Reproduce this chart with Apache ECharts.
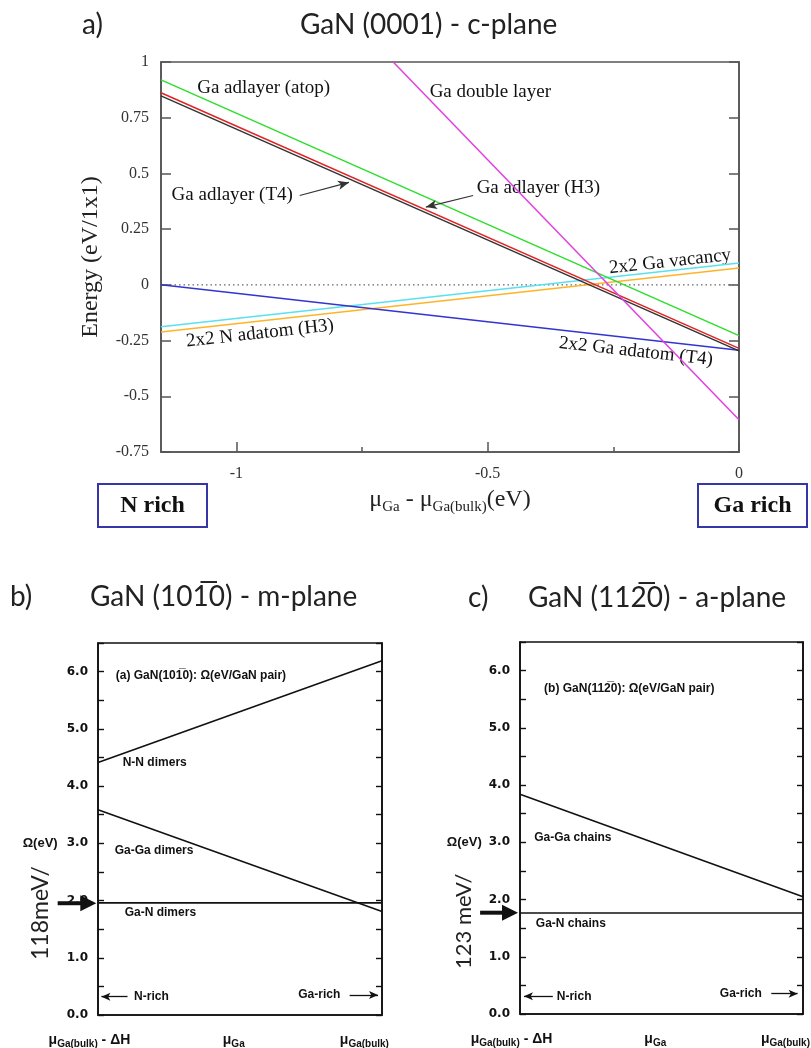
<!DOCTYPE html>
<html lang="en">
<head>
    <meta charset="UTF-8">
    <title>GaN surface energies</title>
    <script src="https://cdn.jsdelivr.net/npm/echarts@6/dist/echarts.min.js"></script>
    <style>
        html, body { margin: 0; padding: 0; background: #fff; }
        #chart { width: 811px; height: 1048px; }
    </style>
</head>
<body>
<div id="chart"></div>
<script>
    // ---- panel a: GaN (0001), energies at the ends of the mu range ----
    const muRange = [-1.15, 0];
    const adlayerAtop = [0.92, -0.228];
    const adlayerH3 = [0.862, -0.285];
    const adlayerT4 = [0.848, -0.296];
    const doubleLayer = [[-0.688, 1], [0, -0.605]];
    const gaVacancy = [-0.188, 0.098];
    const nAdatomH3 = [-0.212, 0.076];
    const gaAdatomT4 = [0.0, -0.293];
    const xMajorA = [-1, -0.5, 0];
    const xMinorA = [-0.75, -0.25];

    // ---- panel b: GaN (10-10), x runs from N rich (0) to Ga rich (1) ----
    const nnDimers = [4.41, 6.19];
    const gagaDimers = [3.585, 1.81];
    const ganDimers = [1.96, 1.96];

    // ---- panel c: GaN (11-20) ----
    const gagaChains = [3.84, 2.05];
    const ganChains = [1.765, 1.765];

    const bottomLabels = ['{m|μ}{s|Ga(bulk)}{m| - ΔH}', '{m|μ}{s|Ga}', '{m|μ}{s|Ga(bulk)}'];
    const bottomAt = [-0.03, 0.478, 0.938];

    // text notes, placed in data coordinates of their panel
    const notesA = [
        { text: 'Ga adlayer (atop)', at: [-1.078, 0.882] },
        { text: 'Ga double layer', at: [-0.6155, 0.867] },
        { text: 'Ga adlayer (T4)', at: [-1.129, 0.404] },
        { text: 'Ga adlayer (H3)', at: [-0.522, 0.434] },
        { text: '2x2 Ga vacancy', at: [-0.137, 0.104], rot: 6.3 },
        { text: '2x2 N adatom (H3)', at: [-0.953, -0.218], rot: 6.3 },
        { text: '2x2 Ga adatom (T4)', at: [-0.205, -0.299], rot: -6.3 }
    ];
    const arrowsA = [
        { from: [-0.874, 0.401], to: [-0.776, 0.4595] },
        { from: [-0.529, 0.401], to: [-0.623, 0.349] }
    ];
    const notesB = [
        { text: '(a) GaN(101\u03050): Ω(eV/GaN pair)', at: [0.0625, 5.93] },
        { text: 'N-N dimers', at: [0.087, 4.41] },
        { text: 'Ga-Ga dimers', at: [0.059, 2.87] },
        { text: 'Ga-N dimers', at: [0.094, 1.78] },
        { text: 'N-rich', at: [0.127, 0.32] },
        { text: 'Ga-rich', at: [0.705, 0.35] }
    ];
    const arrowsB = [
        { from: [0.104, 0.32], to: [0.012, 0.32] },
        { from: [0.886, 0.35], to: [0.986, 0.35] }
    ];
    const bigArrowB = { from: [-0.142, 1.953], to: [-0.006, 1.953] };
    const notesC = [
        { text: '(b) GaN(112\u03050): Ω(eV/GaN pair)', at: [0.085, 5.68] },
        { text: 'Ga-Ga chains', at: [0.05, 3.08] },
        { text: 'Ga-N chains', at: [0.056, 1.58] },
        { text: 'N-rich', at: [0.13, 0.31] },
        { text: 'Ga-rich', at: [0.706, 0.355] }
    ];
    const arrowsC = [
        { from: [0.116, 0.31], to: [0.014, 0.31] },
        { from: [0.888, 0.355], to: [0.981, 0.355] }
    ];
    const bigArrowC = { from: [-0.141, 1.77], to: [-0.007, 1.77] };

    const serif = '"Liberation Serif", "DejaVu Serif", serif';
    const sans = '"Liberation Sans", Arial, sans-serif';
    const titleFont = 'Lato, "Noto Sans", sans-serif';

    const chart = echarts.init(document.getElementById('chart'));

    function seg(ys) {
        return [[0, ys[0]], [1, ys[1]]];
    }
    function segA(ys) {
        return [[muRange[0], ys[0]], [muRange[1], ys[1]]];
    }
    function lineSeries(name, data, color, idx, width) {
        return {
            type: 'line', name: name, xAxisIndex: idx, yAxisIndex: idx * 2,
            data: data, symbol: 'none', silent: true,
            lineStyle: { color: color, width: width || 1.5 }
        };
    }
    function arrowSeries(idx, list, width, symbol, size, color) {
        return {
            type: 'line', xAxisIndex: idx, yAxisIndex: idx * 2, data: [], clip: false,
            markLine: {
                silent: true, symbol: ['none', symbol], symbolSize: size,
                label: { show: false },
                lineStyle: { color: color, width: width, type: 'solid' },
                data: list.map(a => [{ coord: a.from }, { coord: a.to }])
            }
        };
    }
    function omegaAxis(grid, pos) {
        return {
            gridIndex: grid, type: 'value', min: 0, max: 6.5, interval: 0.5, position: pos,
            axisLine: { show: true, onZero: false, lineStyle: { color: '#111', width: 1.6 } },
            axisTick: { show: true, inside: true, length: 6, lineStyle: { color: '#111', width: 1.4 } },
            axisLabel: {
                show: pos === 'left', margin: 10,
                fontFamily: '"DejaVu Sans", sans-serif', fontWeight: 'bold', fontSize: 12, color: '#111',
                formatter: v => Number.isInteger(v) ? v.toFixed(1) : ''
            },
            splitLine: { show: false }
        };
    }
    function energyAxis(pos) {
        return {
            gridIndex: 0, type: 'value', min: -0.75, max: 1, interval: 0.25, position: pos,
            axisLine: { show: true, onZero: false, lineStyle: { color: '#555', width: 1.6 } },
            axisTick: { show: true, inside: true, length: 10, lineStyle: { color: '#555', width: 1.5 } },
            axisLabel: { show: pos === 'left', margin: 12, fontFamily: serif, fontSize: 16, color: '#333' },
            splitLine: { show: false },
            name: pos === 'left' ? 'Energy (eV/1x1)' : '',
            nameLocation: 'middle', nameGap: 58,
            nameTextStyle: { fontFamily: serif, fontSize: 24, color: '#222' }
        };
    }
    function plainX(grid) {
        return {
            gridIndex: grid, type: 'value', min: 0, max: 1,
            axisLine: { show: true, onZero: false, lineStyle: { color: '#111', width: 1.6 } },
            axisTick: { show: false }, axisLabel: { show: false }, splitLine: { show: false }
        };
    }

    const option = {
        animation: false,
        grid: [
            { left: 161, top: 62, width: 578, height: 390, show: true, borderColor: '#555', borderWidth: 1.6 },
            { left: 98, top: 643, width: 284, height: 372, show: true, borderColor: '#111', borderWidth: 1.6 },
            { left: 520, top: 642, width: 283, height: 372, show: true, borderColor: '#111', borderWidth: 1.6 }
        ],
        xAxis: [
            {
                gridIndex: 0, type: 'value', min: muRange[0], max: muRange[1], position: 'bottom',
                axisLine: { show: true, onZero: false, lineStyle: { color: '#555', width: 1.6 } },
                axisTick: { show: true, inside: true, length: 10, customValues: xMajorA, lineStyle: { color: '#555', width: 1.5 } },
                axisLabel: { customValues: xMajorA, margin: 14, fontFamily: serif, fontSize: 16, color: '#333' },
                splitLine: { show: false },
                name: '{m|μ}{s|Ga}{m| - μ}{s|Ga(bulk)}{m|(eV)}',
                nameLocation: 'middle', nameGap: 33,
                nameTextStyle: {
                    rich: {
                        m: { fontFamily: serif, fontSize: 24, color: '#222', lineHeight: 30 },
                        s: { fontFamily: serif, fontSize: 15, color: '#222', lineHeight: 12, verticalAlign: 'bottom' }
                    }
                }
            },
            plainX(1),
            plainX(2),
            {
                gridIndex: 0, type: 'value', min: muRange[0], max: muRange[1], position: 'bottom',
                axisLine: { show: false, onZero: false },
                axisTick: { show: true, inside: true, length: 5, customValues: xMinorA, lineStyle: { color: '#555', width: 1.5 } },
                axisLabel: { show: false }, splitLine: { show: false }
            }
        ],
        yAxis: [
            energyAxis('left'), energyAxis('right'),
            omegaAxis(1, 'left'), omegaAxis(1, 'right'),
            omegaAxis(2, 'left'), omegaAxis(2, 'right')
        ],
        series: [
            lineSeries('zero', segA([0, 0]), '#666', 0, 1.3),
            lineSeries('2x2 N adatom (H3)', segA(nAdatomH3), '#ffb428', 0),
            lineSeries('2x2 Ga vacancy', segA(gaVacancy), '#5ae0f0', 0),
            lineSeries('2x2 Ga adatom (T4)', segA(gaAdatomT4), '#3434d0', 0),
            lineSeries('Ga adlayer (atop)', segA(adlayerAtop), '#2ede2e', 0),
            lineSeries('Ga adlayer (H3)', segA(adlayerH3), '#e02424', 0),
            lineSeries('Ga adlayer (T4)', segA(adlayerT4), '#333333', 0),
            lineSeries('Ga double layer', doubleLayer, '#e040e0', 0),
            lineSeries('N-N dimers', seg(nnDimers), '#111', 1, 1.6),
            lineSeries('Ga-Ga dimers', seg(gagaDimers), '#111', 1, 1.6),
            lineSeries('Ga-N dimers', seg(ganDimers), '#111', 1, 1.6),
            lineSeries('Ga-Ga chains', seg(gagaChains), '#111', 2, 1.6),
            lineSeries('Ga-N chains', seg(ganChains), '#111', 2, 1.6),
            arrowSeries(0, arrowsA, 1.2, 'arrow', [7, 11], '#333'),
            arrowSeries(1, arrowsB, 1.3, 'arrow', [6, 9], '#111'),
            arrowSeries(2, arrowsC, 1.3, 'arrow', [6, 9], '#111')
        ]
    };
    option.series[0].lineStyle.type = [1.5, 3];
    chart.setOption(option);

    // ---- texts placed from data coordinates ----
    function px(idx, p) {
        return chart.convertToPixel({ xAxisIndex: idx, yAxisIndex: idx * 2 }, p);
    }
    const graphics = [];
    function note(idx, n, font, align) {
        const p = px(idx, n.at);
        graphics.push({
            type: 'text', x: p[0], y: p[1], rotation: (n.rot || 0) * Math.PI / 180,
            style: {
                text: n.text, font: font, fill: '#111',
                textAlign: n.rot ? 'center' : (align || 'left'), textVerticalAlign: 'middle'
            }
        });
    }
    notesA.forEach(n => note(0, n, '19px ' + serif));
    notesB.forEach(n => note(1, n, 'bold 12px ' + sans));
    notesC.forEach(n => note(2, n, 'bold 12px ' + sans));
    note(1, { text: 'Ω(eV)', at: [-0.142, 3.0] }, 'bold 13px ' + sans, 'right');
    note(2, { text: 'Ω(eV)', at: [-0.135, 3.0] }, 'bold 13px ' + sans, 'right');
    [[1, '118meV/', [-0.202, 1.78], 23], [2, '123 meV/', [-0.198, 1.62], 22]].forEach(g => {
        const p = px(g[0], g[2]);
        graphics.push({
            type: 'text', x: p[0], y: p[1], rotation: Math.PI / 2,
            style: { text: g[1], font: g[3] + 'px ' + titleFont, fill: '#222', textAlign: 'center', textVerticalAlign: 'middle' }
        });
    });
    // the big arrows sit left of the axis, outside what markLine will draw
    [[1, bigArrowB], [2, bigArrowC]].forEach(a => {
        const p0 = px(a[0], a[1].from);
        const p1 = px(a[0], a[1].to);
        graphics.push({
            type: 'group', z: 10,
            children: [
                { type: 'line', shape: { x1: p0[0], y1: p0[1], x2: p1[0] - 12, y2: p1[1] }, style: { stroke: '#111', lineWidth: 4 } },
                { type: 'polygon', shape: { points: [[p1[0], p1[1]], [p1[0] - 16, p1[1] - 8], [p1[0] - 16, p1[1] + 8]] }, style: { fill: '#111' } }
            ]
        });
    });
    [1, 2].forEach(idx => {
        bottomLabels.forEach((t, i) => {
            const p = px(idx, [bottomAt[i], 0]);
            graphics.push({
                type: 'text', x: p[0], y: p[1] + 25,
                style: {
                    text: t, textAlign: 'center', textVerticalAlign: 'middle',
                    rich: {
                        m: { fontFamily: sans, fontWeight: 'bold', fontSize: 14, fill: '#111', lineHeight: 18 },
                        s: { fontFamily: sans, fontWeight: 'bold', fontSize: 10, fill: '#111', lineHeight: 9, verticalAlign: 'bottom' }
                    }
                }
            });
        });
    });

    // ---- panel titles and rich/poor boxes ----
    [['a)', 82, 25], ['GaN (0001) - c-plane', 300, 25],
     ['b)', 10, 597], ['GaN (101\u03050) - m-plane', 90, 597],
     ['c)', 468, 598], ['GaN (112\u03050) - a-plane', 528, 598]].forEach(t => {
        graphics.push({
            type: 'text', x: t[1], y: t[2],
            style: { text: t[0], font: '28px ' + titleFont, fill: '#222', textVerticalAlign: 'middle' }
        });
    });
    [['N rich', 98], ['Ga rich', 698]].forEach(b => {
        graphics.push({
            type: 'group', x: b[1], y: 484,
            children: [
                { type: 'rect', shape: { x: 0, y: 0, width: 109, height: 43 }, style: { fill: '#fff', stroke: '#3636a8', lineWidth: 2 } },
                { type: 'text', x: 54.5, y: 22, style: { text: b[0], font: 'bold 24px ' + serif, fill: '#111', textAlign: 'center', textVerticalAlign: 'middle' } }
            ]
        });
    });
    chart.setOption({ graphic: graphics });
</script>
</body>
</html>
